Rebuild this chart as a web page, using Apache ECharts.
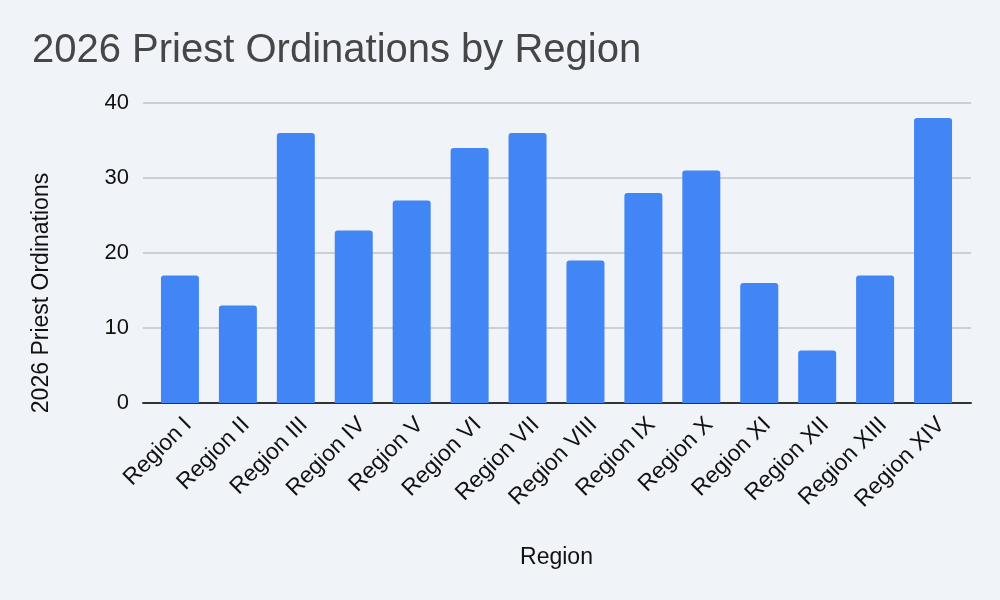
<!DOCTYPE html>
<html>
<head>
<meta charset="utf-8">
<script src="https://cdn.jsdelivr.net/npm/echarts@6/dist/echarts.min.js"></script>
<style>
  html, body { margin: 0; padding: 0; background: #f0f3f8; }
  #chart { width: 1000px; height: 600px; }
</style>
</head>
<body>
<div id="chart"></div>
<script>
const regions = ['Region I', 'Region II', 'Region III', 'Region IV', 'Region V', 'Region VI', 'Region VII',
    'Region VIII', 'Region IX', 'Region X', 'Region XI', 'Region XII', 'Region XIII', 'Region XIV']
const ordinations = [17, 13, 36, 23, 27, 34, 36, 19, 28, 31, 16, 7, 17, 38]
const yTicks = [0, 10, 20, 30, 40]

const font = 'Liberation Sans, Arial, sans-serif'
const yMin = yTicks[0]
const yMax = yTicks[yTicks.length - 1]
const yStep = yTicks[1] - yTicks[0]

const option = {
    backgroundColor: '#f0f3f8',
    animation: false,
    title: {
        text: '2026 Priest Ordinations by Region',
        left: 27,
        top: 26,
        textStyle: { fontFamily: font, fontSize: 40, fontWeight: 'normal', color: '#464646' }
    },
    graphic: [{
        type: 'text',
        x: 42,
        y: 293,
        rotation: Math.PI / 2,
        style: {
            text: '2026 Priest Ordinations',
            font: '23px ' + font,
            fill: '#111',
            align: 'center',
            verticalAlign: 'middle'
        }
    }],
    grid: [
        // bars
        { left: 151, right: 38, top: 103, bottom: 197 },
        // gridlines + baseline, a bit wider than the bars
        { left: 143, right: 29, top: 103, bottom: 197 }
    ],
    xAxis: [
        {
            gridIndex: 0,
            type: 'category',
            data: regions,
            name: 'Region',
            nameLocation: 'middle',
            nameGap: 143,
            nameTextStyle: { fontFamily: font, fontSize: 23, color: '#111' },
            axisLine: { show: false },
            axisTick: { show: false },
            axisLabel: {
                rotate: 45,
                margin: 10,
                interval: 0,
                verticalAlign: 'top',
                fontFamily: font,
                fontSize: 23,
                color: '#111'
            }
        },
        {
            gridIndex: 1,
            type: 'value',
            min: 0,
            max: 1,
            axisLine: { show: true, onZero: false, lineStyle: { color: '#333', width: 2 } },
            axisTick: { show: false },
            axisLabel: { show: false },
            splitLine: { show: false }
        }
    ],
    yAxis: [
        {
            gridIndex: 0,
            type: 'value',
            min: yMin,
            max: yMax,
            interval: yStep,
            axisLine: { show: false },
            axisTick: { show: false },
            axisLabel: { show: false },
            splitLine: { show: false }
        },
        {
            gridIndex: 1,
            type: 'value',
            min: yMin,
            max: yMax,
            interval: yStep,
            axisLine: { show: false },
            axisTick: { show: false },
            axisLabel: { margin: 14, fontFamily: font, fontSize: 22, color: '#111' },
            splitLine: { lineStyle: { color: '#c1c3c7', width: 1.5 } }
        }
    ],
    series: [
        {
            name: '2026 Priest Ordinations',
            type: 'bar',
            xAxisIndex: 0,
            yAxisIndex: 0,
            data: ordinations,
            barWidth: 38,
            z: 1,
            itemStyle: { color: '#4285f4', borderRadius: [3, 3, 0, 0] }
        }
    ]
}

const myChart = echarts.init(document.getElementById('chart'))
myChart.setOption(option)
</script>
</body>
</html>
